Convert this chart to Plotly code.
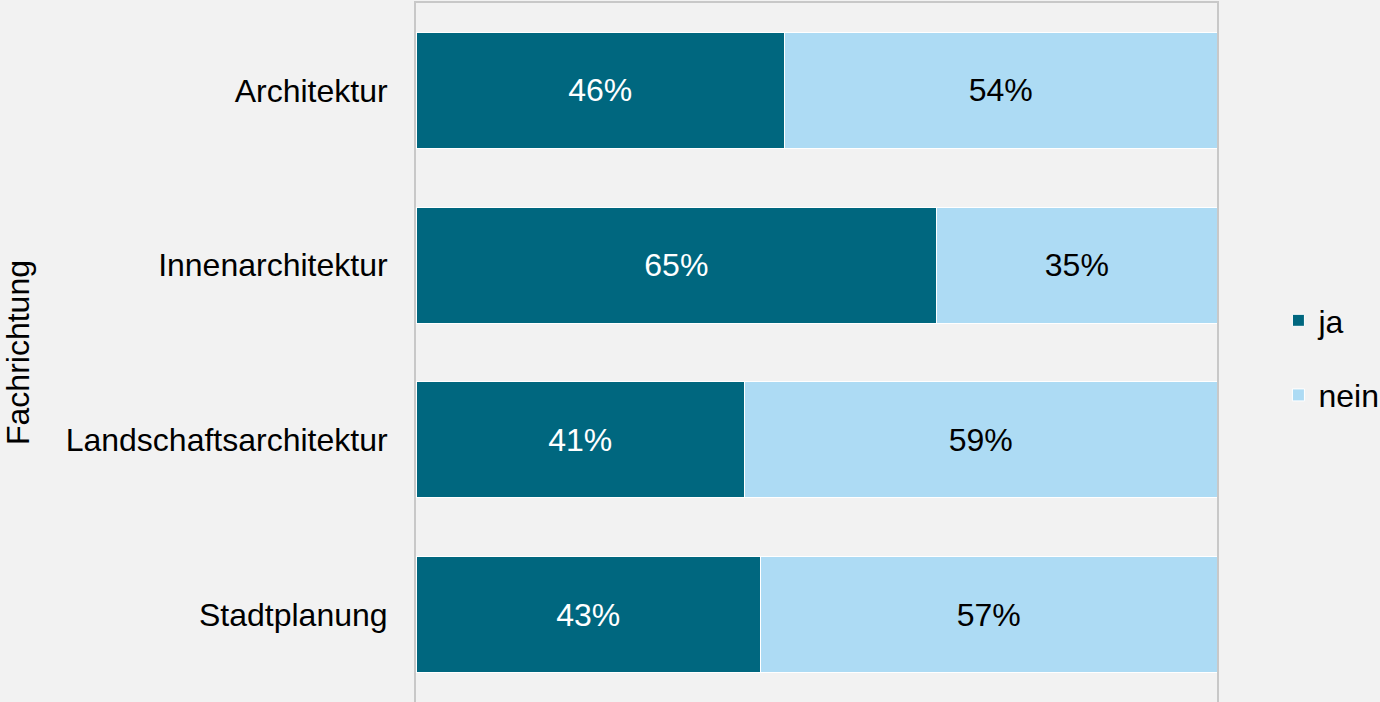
import plotly.graph_objects as go

categories = ["Architektur", "Innenarchitektur", "Landschaftsarchitektur", "Stadtplanung"]
ja_values = [46, 65, 41, 43]
nein_values = [54, 35, 59, 57]
series_names = ["ja", "nein"]
colors = ["#00677f", "#addbf4"]
text_colors = ["#ffffff", "#000000"]

FONT = "Liberation Sans, Arial, sans-serif"

fig = go.Figure()
for i, (name, vals) in enumerate(zip(series_names, [ja_values, nein_values])):
    fig.add_trace(go.Bar(
        y=categories, x=vals, name=name, orientation="h",
        marker=dict(color=colors[i], line=dict(color="#ffffff", width=1)),
        text=[f"{v}%" for v in vals], textposition="inside", insidetextanchor="middle",
        textfont=dict(color=text_colors[i], size=32, family=FONT),
        legendgroup=name, hoverinfo="skip",
    ))

fig.update_layout(
    barmode="stack", bargap=0.336,
    width=1380, height=702,
    paper_bgcolor="#f2f2f2", plot_bgcolor="#f2f2f2",
    margin=dict(l=416, r=163, t=3, b=0),
    font=dict(family=FONT, size=32, color="#000000"),
    showlegend=True,
    legend=dict(xref="container", yref="container", x=0.9264, xanchor="left",
                y=0.49, yanchor="middle",
                tracegroupgap=30, font=dict(size=32), bgcolor="rgba(0,0,0,0)"),
    xaxis=dict(range=[0, 100], showgrid=False, showticklabels=False, zeroline=False,
               showline=True, side="top", linecolor="#c8c8c8", linewidth=2,
               layer="below traces", fixedrange=True),
    yaxis=dict(autorange="reversed", showgrid=False, zeroline=False,
               showline=True, mirror=True, linecolor="#c8c8c8", linewidth=2,
               layer="below traces",
               ticks="", ticklabelstandoff=20, tickfont=dict(size=32),
               title=dict(text="Fachrichtung", font=dict(size=32), standoff=28),
               automargin=False),
)

fig.write_html("out.html", config={"displayModeBar": False},
               post_script="document.body.style.margin='0';document.body.style.overflow='hidden';")
